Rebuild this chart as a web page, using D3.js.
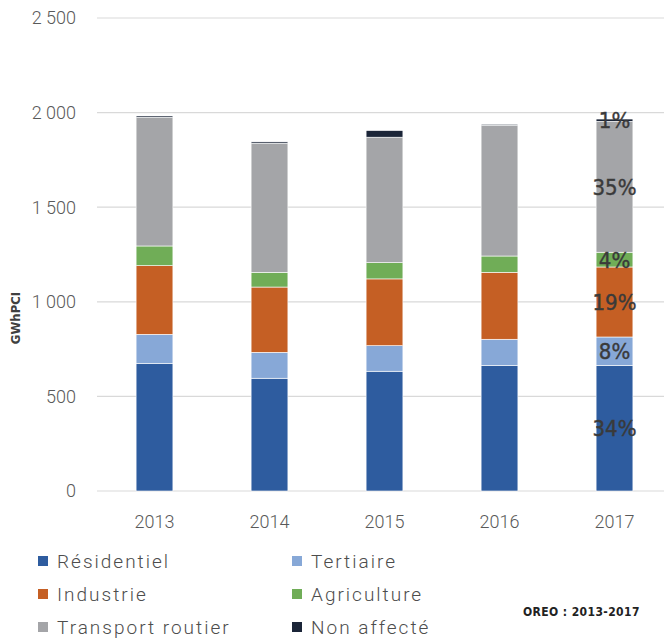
<!DOCTYPE html>
<html>
<head>
<meta charset="utf-8">
<script src="https://cdn.jsdelivr.net/npm/d3@7"></script>
<style>
  body { margin: 0; background: #fff; }
  svg { display: block; }
</style>
</head>
<body>
<svg width="664" height="638"></svg>
<script>
// values (GWh PCI)
const years = ["2013", "2014", "2015", "2016", "2017"];
const residentiel = [675, 596, 633, 664, 664];
const tertiaire = [153, 137, 135, 138, 150];
const industrie = [363, 345, 353, 354, 370];
const agriculture = [104, 78, 86, 86, 78];
const transport = [680, 682, 663, 691, 692];
const nonAffecte = [7, 7, 35, 5, 12];

const seriesNames = ["Résidentiel", "Tertiaire", "Industrie", "Agriculture", "Transport routier", "Non affecté"];
const seriesColors = ["#2e5c9f", "#87a8d7", "#c55f24", "#70ad57", "#a4a5a8", "#1b2538"];
const yTicks = [0, 500, 1000, 1500, 2000, 2500];
const labelYear = "2017";

const svg = d3.select("svg");
const W = 664, H = 638;

const rows = years.map((y, i) => ({
    year: y,
    s0: residentiel[i], s1: tertiaire[i], s2: industrie[i],
    s3: agriculture[i], s4: transport[i], s5: nonAffecte[i]
}));
const keys = ["s0", "s1", "s2", "s3", "s4", "s5"];
const stacked = d3.stack().keys(keys)(rows);

const x = d3.scaleBand().domain(years).range([97, 672]).paddingInner(0.68).paddingOuter(0.34);
const y = d3.scaleLinear().domain([0, 2500]).range([491, 18]);

// gridlines
svg.append("g")
    .selectAll("line")
    .data(yTicks)
    .enter().append("line")
    .attr("x1", 97).attr("x2", W)
    .attr("y1", d => y(d)).attr("y2", d => y(d))
    .attr("stroke", "#d9d9d9")
    .attr("stroke-width", 1.2);

// y tick labels
const fmt = d => d3.format(",")(d).replace(",", " ");
svg.append("g")
    .selectAll("text")
    .data(yTicks)
    .enter().append("text")
    .attr("x", 76)
    .attr("y", d => y(d))
    .attr("dy", "0.35em")
    .attr("text-anchor", "end")
    .attr("font-family", "Roboto, sans-serif")
    .attr("font-weight", 300)
    .attr("font-size", 18)
    .attr("fill", "#595959")
    .text(fmt);

// y axis title
svg.append("text")
    .attr("transform", "translate(20,318) rotate(-90)")
    .attr("text-anchor", "middle")
    .attr("font-family", "'DejaVu Sans Condensed', sans-serif")
    .attr("font-weight", "bold")
    .attr("font-size", 13)
    .attr("fill", "#404040")
    .text("GWhPCI");

// stacked bars
svg.append("g")
    .selectAll("g")
    .data(stacked)
    .enter().append("g")
    .attr("fill", (d, i) => seriesColors[i])
    .selectAll("rect")
    .data(d => d)
    .enter().append("rect")
    .attr("x", d => x(d.data.year))
    .attr("width", x.bandwidth())
    .attr("y", d => y(d[1]))
    .attr("height", d => y(d[0]) - y(d[1]))
    .attr("stroke", "#ffffff")
    .attr("stroke-width", 0.6);

// percent labels on the last bar
const lastRow = rows.find(r => r.year === labelYear);
const total = d3.sum(keys, k => lastRow[k]);
svg.append("g")
    .selectAll("text")
    .data(stacked.map(s => s.find(d => d.data.year === labelYear)))
    .enter().append("text")
    .attr("x", d => x(labelYear) + x.bandwidth() / 2)
    .attr("y", d => (y(d[0]) + y(d[1])) / 2)
    .attr("dy", "0.36em")
    .attr("text-anchor", "middle")
    .attr("font-family", "'DejaVu Sans Condensed', sans-serif")
    .attr("font-size", 22)
    .attr("fill", "#3a3a3a")
    .attr("stroke", "#3a3a3a")
    .attr("stroke-width", 0.4)
    .text(d => Math.round((d[1] - d[0]) / total * 100) + "%");

// x labels
svg.append("g")
    .selectAll("text")
    .data(years)
    .enter().append("text")
    .attr("x", d => x(d) + x.bandwidth() / 2)
    .attr("y", 522)
    .attr("dy", "0.35em")
    .attr("text-anchor", "middle")
    .attr("font-family", "Roboto, sans-serif")
    .attr("font-weight", 300)
    .attr("font-size", 18)
    .attr("fill", "#595959")
    .text(d => d);

// legend
const legend = svg.append("g")
    .selectAll("g")
    .data(seriesNames)
    .enter().append("g")
    .attr("transform", (d, i) => `translate(${i % 2 === 0 ? 38 : 292},${561 + Math.floor(i / 2) * 33})`);

legend.append("rect")
    .attr("x", 0).attr("y", -5)
    .attr("width", 10).attr("height", 10)
    .attr("fill", (d, i) => seriesColors[i]);

legend.append("text")
    .attr("x", 19)
    .attr("dy", "0.36em")
    .attr("font-family", "Roboto, sans-serif")
    .attr("font-weight", 300)
    .attr("font-size", 19)
    .attr("letter-spacing", 2)
    .attr("fill", "#4d4d4d")
    .text(d => d);

// source
svg.append("text")
    .attr("x", 523)
    .attr("y", 612)
    .attr("dy", "0.35em")
    .attr("font-family", "'DejaVu Sans Condensed', sans-serif")
    .attr("font-weight", "bold")
    .attr("font-size", 12)
    .attr("letter-spacing", 0.4)
    .attr("fill", "#222")
    .text("OREO : 2013-2017");
</script>
</body>
</html>
